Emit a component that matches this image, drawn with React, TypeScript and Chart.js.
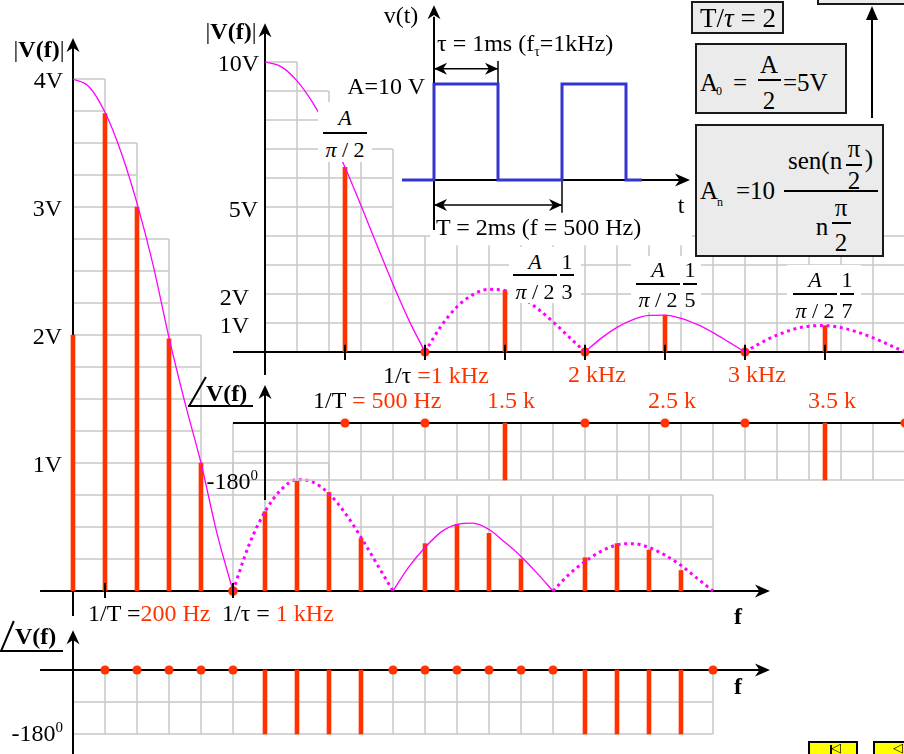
import React, { useEffect, useRef } from "react";
import { Chart, registerables } from "chart.js";

Chart.register(...registerables);

const W = 904;
const H = 754;
const RED = "#ff3300";
const MAGENTA = "#ff00ff";
const BLUE = "#3434cf";
const GRID = "#c8c8c8";
const INK = "#000000";
const SERIF = '"Liberation Serif", "Times New Roman", Times, serif';

// ---------- Pulse train with T = 5τ (1/T = 200 Hz, 1/τ = 1 kHz) ----------
const harmonicsA = [0, 200, 400, 600, 800, 1000, 1200, 1400, 1600, 1800, 2000, 2200, 2400, 2600, 2800, 3000, 3200, 3400, 3600, 3800];
const amplitudeA = [2.0, 3.73, 3.0, 1.97, 1.0, 0, 0.62, 0.86, 0.77, 0.41, 0, 0.37, 0.52, 0.45, 0.25, 0, 0.26, 0.37, 0.32, 0.16];
const nullMarksA = [1000];
const phaseFreqA = [200, 400, 600, 800, 1000, 1200, 1400, 1600, 1800, 2000, 2200, 2400, 2600, 2800, 3000, 3200, 3400, 3600, 3800, 4000];
const phaseA = [0, 0, 0, 0, 0, -180, -180, -180, -180, 0, 0, 0, 0, 0, 0, -180, -180, -180, -180, 0];

// |sinc| envelopes sampled every 100 Hz
const envFreq = [
  0, 100, 200, 300, 400, 500, 600, 700, 800, 900, 1000,
  1100, 1200, 1300, 1400, 1500, 1600, 1700, 1800, 1900, 2000,
  2100, 2200, 2300, 2400, 2500, 2600, 2700, 2800, 2900, 3000,
  3100, 3200, 3300, 3400, 3500, 3600, 3700, 3800, 3900, 4000,
];
const envelopeA = [
  4.0, 3.94, 3.74, 3.43, 3.03, 2.55, 1.98, 1.47, 1.0, 0.45, 0,
  0.36, 0.62, 0.79, 0.87, 0.85, 0.76, 0.61, 0.42, 0.21, 0,
  0.19, 0.34, 0.46, 0.52, 0.53, 0.48, 0.38, 0.27, 0.14, 0,
  0.13, 0.23, 0.31, 0.36, 0.37, 0.34, 0.28, 0.2, 0.1, 0,
];

// ---------- Square wave, T = 2τ (1/T = 500 Hz) ----------
const harmonicsC = [500, 1000, 1500, 2000, 2500, 3000, 3500, 4000];
const amplitudeC = [6.37, 0, 2.12, 0, 1.27, 0, 0.91, 0];
const nullMarksC = [1000, 2000, 3000];
const phaseC = [0, 0, -180, 0, 0, 0, -180, 0];
const envelopeC = [
  10, 9.84, 9.35, 8.58, 7.57, 6.37, 5.05, 3.68, 2.34, 1.09, 0,
  0.89, 1.56, 1.98, 2.16, 2.12, 1.89, 1.51, 1.04, 0.52, 0,
  0.47, 0.85, 1.12, 1.26, 1.27, 1.16, 0.95, 0.67, 0.34, 0,
  0.32, 0.58, 0.78, 0.89, 0.91, 0.84, 0.69, 0.49, 0.25, 0,
];

// v(t) in ms / V
const pulseTimes = [-0.5, 0, 1, 2, 3, 3.25];
const pulseLevels = [0, 10, 0, 10, 0, 0];

// ---------- layout: origin pixel and scale of every panel ----------
const A_X0 = 73, A_KX = 32 / 200, A_Y0 = 591, A_KY = 128;
const B_Y0 = 670, B_KY = 64 / 180;
const C_X0 = 265, C_KX = 160 / 1000, C_Y0 = 352, C_KY = 29;
const D_Y0 = 423, D_KY = 57 / 180;
const E_X0 = 434, E_KX = 64, E_Y0 = 180, E_KY = 9.6;

// staircase grid heights per 200 Hz column
const stairTopsA = [4, 3.5, 2.75, 2, 1, 1, 1, 1, 0.75, 0.75, 0.75, 0.75, 0.75, 0.75, 0.75, 0.75, 0.75, 0.75, 0.75, 0.75];
const stairTopsC = [10, 9, 7, 7, 4, 4, 4, 4, 4, 4, 4, 4, 4, 4, 4, 4, 4, 4, 4, 4];

const xRange = (x0: number, k: number): [number, number] => [-x0 / k, (W - x0) / k];
const yRange = (y0: number, k: number): [number, number] => [-(H - y0) / k, y0 / k];

type Px = (v: number) => number;
type Draw = (ctx: CanvasRenderingContext2D, px: Px, py: Px) => void;

function seg(ctx: CanvasRenderingContext2D, x1: number, y1: number, x2: number, y2: number) {
  ctx.beginPath();
  ctx.moveTo(x1, y1);
  ctx.lineTo(x2, y2);
  ctx.stroke();
}

function head(ctx: CanvasRenderingContext2D, x: number, y: number, ang: number, len = 14, half = 6.5) {
  const c = Math.cos(ang), s = Math.sin(ang);
  const bx = x - c * len, by = y - s * len;
  const nx = x - c * len * 0.7, ny = y - s * len * 0.7;
  ctx.beginPath();
  ctx.moveTo(x, y);
  ctx.lineTo(bx - s * half, by + c * half);
  ctx.lineTo(nx, ny);
  ctx.lineTo(bx + s * half, by - c * half);
  ctx.closePath();
  ctx.fill();
}

function stairs(ctx: CanvasRenderingContext2D, px: Px, py: Px, x0: number, dx: number, tops: number[], step: number) {
  ctx.strokeStyle = GRID;
  ctx.lineWidth = 1.5;
  ctx.beginPath();
  const base = py(0);
  tops.forEach((top, i) => {
    const xa = px(x0 + i * dx);
    const xb = px(x0 + (i + 1) * dx);
    for (let k = 1; k * step <= top + 1e-6; k++) {
      const yy = py(k * step);
      ctx.moveTo(xa, yy);
      ctx.lineTo(xb, yy);
    }
    const h = i > 0 ? Math.max(top, tops[i - 1]) : top;
    ctx.moveTo(xa, base);
    ctx.lineTo(xa, py(h));
  });
  const xe = px(x0 + tops.length * dx);
  ctx.moveTo(xe, base);
  ctx.lineTo(xe, py(tops[tops.length - 1]));
  ctx.stroke();
}

function rowGrid(ctx: CanvasRenderingContext2D, px: Px, py: Px, x0: number, dx: number, n: number, levels: number[]) {
  ctx.strokeStyle = GRID;
  ctx.lineWidth = 1.5;
  ctx.beginPath();
  const top = py(Math.max(...levels));
  const bot = py(Math.min(...levels));
  for (let i = 0; i <= n; i++) {
    const x = px(x0 + i * dx);
    ctx.moveTo(x, top);
    ctx.lineTo(x, bot);
  }
  levels.forEach((v) => {
    const y = py(v);
    ctx.moveTo(px(x0), y);
    ctx.lineTo(px(x0 + n * dx), y);
  });
  ctx.stroke();
}

// split the envelope into lobes (1 kHz wide), keeping the requested ones
function lobePoints(freqs: number[], vals: number[], keep: (k: number) => boolean) {
  return freqs.map((f, i) => {
    const k = Math.floor(f / 1000);
    const edge = f % 1000 === 0;
    const show = keep(k) || (edge && k > 0 && keep(k - 1));
    return { x: f, y: show ? vals[i] : null };
  });
}

function envelopeSets(vals: number[]) {
  const common = { type: "line", pointRadius: 0, cubicInterpolationMode: "monotone", spanGaps: false, fill: false, borderColor: MAGENTA };
  return [
    { ...common, data: lobePoints(envFreq, vals, (k) => k % 2 === 0), borderWidth: 1.3 },
    { ...common, data: lobePoints(envFreq, vals, (k) => k % 2 === 1), borderWidth: 3, borderDash: [3, 3.7], borderCapStyle: "butt" },
  ];
}

const barSet = (pts: { x: number; y: number }[]) => ({ type: "bar", data: pts, backgroundColor: RED, barThickness: 4, borderWidth: 0 });
const dotSet = (pts: { x: number; y: number }[], r = 4.8) => ({ type: "scatter", data: pts, backgroundColor: RED, borderWidth: 0, pointRadius: r, clip: false });

function makeChart(canvas: HTMLCanvasElement, xr: [number, number], yr: [number, number], datasets: any[], under: Draw, over?: Draw) {
  const decor = {
    id: "decor",
    beforeDatasetsDraw(chart: any) {
      const { ctx, scales } = chart;
      ctx.save();
      under(ctx, (v) => scales.x.getPixelForValue(v), (v) => scales.y.getPixelForValue(v));
      ctx.restore();
    },
    afterDatasetsDraw(chart: any) {
      if (!over) return;
      const { ctx, scales } = chart;
      ctx.save();
      over(ctx, (v) => scales.x.getPixelForValue(v), (v) => scales.y.getPixelForValue(v));
      ctx.restore();
    },
  };
  return new Chart(canvas, {
    type: "bar",
    data: { datasets },
    options: {
      animation: false,
      responsive: false,
      devicePixelRatio: 1,
      events: [],
      layout: { padding: 0, autoPadding: false },
      plugins: { legend: { display: false }, tooltip: { enabled: false }, title: { display: false } },
      scales: {
        x: { type: "linear", min: xr[0], max: xr[1], display: false, offset: false },
        y: { type: "linear", min: yr[0], max: yr[1], display: false },
      },
    },
    plugins: [decor],
  } as any);
}

// |V(f)| for T = 5τ
function buildA(cv: HTMLCanvasElement) {
  const datasets = [
    ...envelopeSets(envelopeA),
    barSet(harmonicsA.map((f, i) => ({ x: f, y: amplitudeA[i] })).filter((p) => p.y > 0)),
    dotSet(nullMarksA.map((f) => ({ x: f, y: 0 }))),
  ];
  return makeChart(cv, xRange(A_X0, A_KX), yRange(A_Y0, A_KY), datasets,
    (ctx, px, py) => {
      stairs(ctx, px, py, 0, 200, stairTopsA, 0.25);
      ctx.strokeStyle = INK;
      ctx.fillStyle = INK;
      ctx.lineWidth = 2;
      seg(ctx, px(-206), py(0), px(4340), py(0));
      head(ctx, px(4356), py(0), 0, 15, 6.5);
      seg(ctx, px(0), py(-0.195), px(0), py(4.3));
      head(ctx, px(0), py(4.32), -Math.PI / 2);
    },
    (ctx, px, py) => {
      ctx.strokeStyle = INK;
      ctx.lineWidth = 2;
      [200, 1000].forEach((f) => seg(ctx, px(f), py(0.0625), px(f), py(-0.055)));
    });
}

// phase for T = 5τ
function buildB(cv: HTMLCanvasElement) {
  const pts = phaseFreqA.map((f, i) => ({ x: f, y: phaseA[i] }));
  const datasets = [
    dotSet(pts.filter((p) => p.y === 0).map((p) => ({ x: p.x, y: 0 })), 4.6),
    barSet(pts.filter((p) => p.y !== 0)),
  ];
  return makeChart(cv, xRange(A_X0, A_KX), yRange(B_Y0, B_KY), datasets, (ctx, px, py) => {
    rowGrid(ctx, px, py, 0, 200, 20, [0, -90, -180]);
    ctx.strokeStyle = INK;
    ctx.fillStyle = INK;
    ctx.lineWidth = 2;
    seg(ctx, px(-206), py(0), px(4340), py(0));
    head(ctx, px(4356), py(0), 0, 15, 6.5);
    seg(ctx, px(0), py(-260), px(0), py(105));
    head(ctx, px(0), py(112), -Math.PI / 2);
  });
}

// |V(f)| for T = 2τ
function buildC(cv: HTMLCanvasElement) {
  const datasets = [
    ...envelopeSets(envelopeC),
    barSet(harmonicsC.map((f, i) => ({ x: f, y: amplitudeC[i] })).filter((p) => p.y > 0)),
    dotSet(nullMarksC.map((f) => ({ x: f, y: 0 })), 4.6),
  ];
  return makeChart(cv, xRange(C_X0, C_KX), yRange(C_Y0, C_KY), datasets,
    (ctx, px, py) => {
      stairs(ctx, px, py, 0, 200, stairTopsC, 1);
      ctx.strokeStyle = INK;
      ctx.fillStyle = INK;
      ctx.lineWidth = 2;
      seg(ctx, px(-200), py(0), px(4200), py(0));
      seg(ctx, px(0), py(-0.79), px(0), py(11.2));
      head(ctx, px(0), py(11.34), -Math.PI / 2);
    },
    (ctx, px, py) => {
      ctx.strokeStyle = INK;
      ctx.lineWidth = 2;
      [500, 1000, 1500, 2000, 2500, 3000, 3500].forEach((f) => seg(ctx, px(f), py(0.25), px(f), py(-0.28)));
    });
}

// phase for T = 2τ
function buildD(cv: HTMLCanvasElement) {
  const pts = harmonicsC.map((f, i) => ({ x: f, y: phaseC[i] }));
  const datasets = [
    dotSet(pts.filter((p) => p.y === 0), 4.6),
    barSet(pts.filter((p) => p.y !== 0)),
  ];
  return makeChart(cv, xRange(C_X0, C_KX), yRange(D_Y0, D_KY), datasets, (ctx, px, py) => {
    rowGrid(ctx, px, py, -200, 200, 21, [0, -90, -180]);
    ctx.strokeStyle = INK;
    ctx.fillStyle = INK;
    ctx.lineWidth = 2;
    seg(ctx, px(-200), py(0), px(4200), py(0));
    seg(ctx, px(0), py(-243), px(0), py(112));
    head(ctx, px(0), py(120), -Math.PI / 2);
  });
}

// v(t)
function buildE(cv: HTMLCanvasElement) {
  const datasets = [
    {
      type: "line",
      data: pulseTimes.map((t, i) => ({ x: t, y: pulseLevels[i] })),
      stepped: "before",
      borderColor: BLUE,
      borderWidth: 3,
      pointRadius: 0,
      fill: false,
      borderJoinStyle: "miter",
    },
  ];
  return makeChart(cv, xRange(E_X0, E_KX), yRange(E_Y0, E_KY), datasets, (ctx, px, py) => {
    ctx.fillStyle = "#ffffff";
    ctx.fillRect(px(-0.06), py(18.75), px(4.03) - px(-0.06), py(-6.8) - py(18.75));
    ctx.strokeStyle = INK;
    ctx.fillStyle = INK;
    ctx.lineWidth = 2;
    seg(ctx, px(-0.5), py(0), px(3.9), py(0));
    head(ctx, px(4.0), py(0), 0, 15, 6.5);
    seg(ctx, px(0), py(-5.2), px(0), py(17));
    head(ctx, px(0), py(18.2), -Math.PI / 2);
    ctx.lineWidth = 1.5;
    seg(ctx, px(1), py(10), px(1), py(12.4));
    seg(ctx, px(2), py(0), px(2), py(-3.4));
    seg(ctx, px(0), py(11.6), px(1), py(11.6));
    head(ctx, px(0), py(11.6), Math.PI, 13, 6);
    head(ctx, px(1), py(11.6), 0, 13, 6);
    seg(ctx, px(0), py(-2.6), px(2), py(-2.6));
    head(ctx, px(0), py(-2.6), Math.PI, 13, 6);
    head(ctx, px(2), py(-2.6), 0, 13, 6);
  });
}

// ---------- text helpers ----------
type TP = { x: number; y: number; a?: "l" | "c" | "r"; s?: number; b?: boolean; it?: boolean; c?: string; children?: React.ReactNode };
function Tx({ x, y, a = "c", s = 24, b, it, c = INK, children }: TP) {
  const tx = a === "l" ? "0" : a === "r" ? "-100%" : "-50%";
  return (
    <div
      style={{
        position: "absolute",
        left: x,
        top: y,
        transform: `translate(${tx},-50%)`,
        fontFamily: SERIF,
        fontSize: s,
        fontWeight: b ? 700 : 400,
        fontStyle: it ? "italic" : "normal",
        color: c,
        lineHeight: 1,
        whiteSpace: "nowrap",
      }}
    >
      {children}
    </div>
  );
}
const Red = ({ children }: { children: React.ReactNode }) => <span style={{ color: RED }}>{children}</span>;
const Sup = ({ children }: { children: React.ReactNode }) => (
  <span style={{ fontSize: 15, position: "relative", top: -9 }}>{children}</span>
);
const Sub = ({ children, s = 13, d = 6 }: { children: React.ReactNode; s?: number; d?: number }) => (
  <span style={{ fontSize: s, position: "relative", top: d }}>{children}</span>
);
function HLine({ x1, x2, y, w = 1.5 }: { x1: number; x2: number; y: number; w?: number }) {
  return <div style={{ position: "absolute", left: x1, top: y - w / 2, width: x2 - x1, height: w, background: INK }} />;
}
function Angle({ x, y, deg, len, w, tx, ty }: { x: number; y: number; deg: number; len: number; w: number; tx: number; ty: number }) {
  return (
    <>
      <div
        style={{
          position: "absolute",
          left: x,
          top: y - len,
          width: 2,
          height: len,
          background: INK,
          transformOrigin: "0 100%",
          transform: `rotate(${deg}deg)`,
        }}
      />
      <HLine x1={x} x2={x + w} y={y} w={2} />
      <Tx x={tx} y={ty} a="l" b>V(f)</Tx>
    </>
  );
}
function Box({ l, t, w, h, children }: { l: number; t: number; w: number; h: number; children?: React.ReactNode }) {
  return (
    <div
      style={{
        position: "absolute",
        left: l,
        top: t,
        width: w,
        height: h,
        background: "#ebebeb",
        border: "2px solid #1a1a1a",
        boxSizing: "border-box",
      }}
    >
      {children}
    </div>
  );
}
// A/(π/2)·1/k label on a white patch
function Coef({ cx, yA, yL, yP, k, box }: { cx: number; yA: number; yL: number; yP: number; k?: string; box: [number, number, number, number] }) {
  return (
    <>
      <div style={{ position: "absolute", left: box[0], top: box[1], width: box[2], height: box[3], background: "#fff" }} />
      <Tx x={cx} y={yA} s={22} it>A</Tx>
      <HLine x1={cx - 22} x2={cx + 22} y={yL} />
      <Tx x={cx} y={yP} s={22}><i>π</i> / 2</Tx>
      {k && (
        <>
          <Tx x={cx + 32} y={yA} s={22}>1</Tx>
          <HLine x1={cx + 25} x2={cx + 39} y={yL} />
          <Tx x={cx + 32} y={yP} s={22}>{k}</Tx>
        </>
      )}
    </>
  );
}

export default function App() {
  const aRef = useRef<HTMLCanvasElement>(null);
  const bRef = useRef<HTMLCanvasElement>(null);
  const cRef = useRef<HTMLCanvasElement>(null);
  const dRef = useRef<HTMLCanvasElement>(null);
  const eRef = useRef<HTMLCanvasElement>(null);

  useEffect(() => {
    const charts: Chart[] = [];
    if (aRef.current) charts.push(buildA(aRef.current));
    if (bRef.current) charts.push(buildB(bRef.current));
    if (dRef.current) charts.push(buildD(dRef.current));
    if (cRef.current) charts.push(buildC(cRef.current));
    if (eRef.current) charts.push(buildE(eRef.current));
    return () => charts.forEach((c) => c.destroy());
  }, []);

  const cv = (r: React.RefObject<HTMLCanvasElement>) => (
    <canvas ref={r} width={W} height={H} style={{ position: "absolute", left: 0, top: 0, width: W, height: H }} />
  );

  return (
    <div style={{ position: "absolute", left: 0, top: 0, width: W, height: H, overflow: "hidden", background: "#fff" }}>
      {cv(aRef)}
      {cv(bRef)}
      {cv(dRef)}
      {cv(cRef)}
      {cv(eRef)}

      {/* spectrum T = 5τ */}
      <Tx x={39} y={49}>|<b>V(f)</b>|</Tx>
      <Tx x={63} y={80} a="r">4V</Tx>
      <Tx x={62} y={208} a="r">3V</Tx>
      <Tx x={62} y={336} a="r">2V</Tx>
      <Tx x={62} y={464} a="r">1V</Tx>
      <Tx x={88} y={613} a="l">1/T =<Red>200 Hz</Red></Tx>
      <Tx x={222} y={613} a="l">1/τ = <Red>1 kHz</Red></Tx>
      <Tx x={738} y={616} b>f</Tx>
      <Angle x={0} y={651} deg={23} len={33} w={63} tx={15} ty={636} />
      <Tx x={63} y={733} a="r">-180<Sup>0</Sup></Tx>
      <Tx x={738} y={686} b>f</Tx>

      {/* spectrum T = 2τ */}
      <Tx x={231} y={31}>|<b>V(f)</b>|</Tx>
      <Tx x={259} y={63} a="r">10V</Tx>
      <Tx x={258} y={209} a="r">5V</Tx>
      <Tx x={249} y={297} a="r">2V</Tx>
      <Tx x={249} y={325} a="r">1V</Tx>
      <Tx x={383} y={375} a="l">1/τ <Red>=1 kHz</Red></Tx>
      <Tx x={597} y={374} c={RED}>2 kHz</Tx>
      <Tx x={757} y={374} c={RED}>3 kHz</Tx>
      <Coef cx={345} yA={118} yL={133} yP={150} box={[318, 102, 54, 60]} />
      <Coef cx={535} yA={262} yL={275} yP={292} k="3" box={[509, 247, 72, 56]} />
      <Coef cx={658} yA={270} yL={284} yP={300} k="5" box={[631, 256, 70, 56]} />
      <Coef cx={815} yA={280} yL={294} yP={311} k="7" box={[787, 265, 74, 57]} />

      <Angle x={188} y={406} deg={30} len={34} w={65} tx={206} ty={393} />
      <Tx x={313} y={400} a="l">1/T<Red> = 500 Hz</Red></Tx>
      <Tx x={511} y={400} c={RED}>1.5 k</Tx>
      <Tx x={672} y={400} c={RED}>2.5 k</Tx>
      <Tx x={832} y={400} c={RED}>3.5 k</Tx>
      <Tx x={258} y={481} a="r">-180<Sup>0</Sup></Tx>

      {/* v(t) */}
      <Tx x={401} y={15}>v(t)</Tx>
      <Tx x={437} y={43} a="l">τ = 1ms (f<Sub s={14} d={5}>τ</Sub>=1kHz)</Tx>
      <Tx x={425} y={86} a="r">A=10 V</Tx>
      <Tx x={436} y={227} a="l">T = 2ms (f = 500 Hz)</Tx>
      <Tx x={681} y={205}>t</Tx>

      {/* formula boxes */}
      <Box l={691} t={1} w={93} h={33} />
      <Tx x={738} y={18} s={27}>T/<i>τ</i> = 2</Tx>

      <Box l={695} t={43} w={152} h={71} />
      <Tx x={700} y={82} a="l" s={25}>A</Tx>
      <Tx x={716} y={91} a="l" s={12}>0</Tx>
      <Tx x={740} y={82} s={25}>=</Tx>
      <Tx x={769} y={64} s={25}>A</Tx>
      <HLine x1={758} x2={781} y={80} />
      <Tx x={769} y={100} s={25}>2</Tx>
      <Tx x={783} y={82} a="l" s={25}>=5V</Tx>

      <Box l={695} t={124} w={189} h={133} />
      <Tx x={700} y={190} a="l" s={25}>A</Tx>
      <Tx x={717} y={202} a="l" s={12}>n</Tx>
      <Tx x={736} y={190} a="l" s={25}>=10</Tx>
      <HLine x1={784} x2={878} y={191} />
      <Tx x={788} y={160} a="l" s={25}>sen(n</Tx>
      <Tx x={854} y={148} s={25}>π</Tx>
      <HLine x1={846} x2={862} y={165} />
      <Tx x={854} y={180} s={25}>2</Tx>
      <Tx x={869} y={158} s={25}>)</Tx>
      <Tx x={822} y={226} s={25}>n</Tx>
      <Tx x={841} y={207} s={25}>π</Tx>
      <HLine x1={832} x2={851} y={223} />
      <Tx x={841} y={242} s={25}>2</Tx>

      <Box l={817} t={-40} w={120} h={45} />
      <div style={{ position: "absolute", left: 871, top: 18, width: 2, height: 100, background: INK }} />
      <div
        style={{
          position: "absolute",
          left: 866,
          top: 6,
          width: 0,
          height: 0,
          borderLeft: "6px solid transparent",
          borderRight: "6px solid transparent",
          borderBottom: "14px solid #000",
        }}
      />

      {/* navigation buttons */}
      <div style={{ position: "absolute", left: 808, top: 741, width: 50, height: 20, background: "#ffff00", border: "2px solid #000", boxSizing: "border-box" }}>
        <div style={{ position: "absolute", left: 20, top: 2, width: 2, height: 14, background: "#000" }} />
        <div style={{ position: "absolute", left: 21, top: -2, fontSize: 13, fontFamily: "DejaVu Sans", lineHeight: 1 }}>◁</div>
      </div>
      <div style={{ position: "absolute", left: 873, top: 741, width: 50, height: 20, background: "#ffff00", border: "2px solid #000", boxSizing: "border-box" }}>
        <div style={{ position: "absolute", left: 18, top: -2, fontSize: 13, fontFamily: "DejaVu Sans", lineHeight: 1 }}>◁</div>
      </div>
    </div>
  );
}
